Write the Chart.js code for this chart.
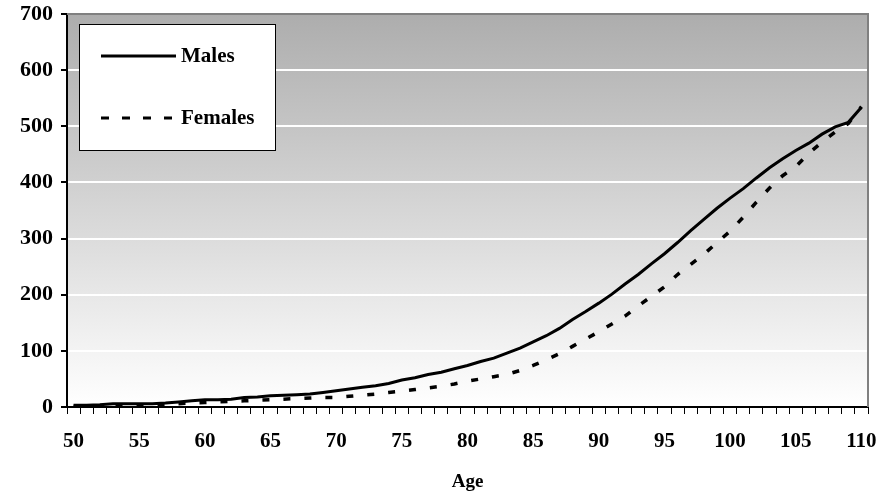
<!DOCTYPE html>
<html>
  <head>
    <meta charset="utf-8">
    <style type="text/css">
      html, body { margin: 0; padding: 0; background: #ffffff; }
      .chart-container { width: 882px; height: 498px; }
    </style>
  </head>
  <body>
    <script src="https://cdn.jsdelivr.net/npm/chart.js@4.4.1/dist/chart.umd.min.js"></script>

    <div class="chart-container">
      <canvas id="myChart" width="882" height="498"></canvas>
    </div>

    <script>
      /* datas */
      const ages = [];
      for (let a = 50; a <= 110; a++) ages.push(a);

      const males = [3, 3, 4, 6, 6, 6, 6, 7, 9, 11,
        13, 13, 14, 17, 18, 20, 21, 22, 23, 26,
        29, 32, 35, 38, 42, 48, 52, 58, 62, 68,
        74, 81, 87, 96, 105, 116, 127, 140, 156, 170,
        185, 201, 219, 236, 255, 273, 293, 314, 334, 354,
        372, 389, 408, 426, 442, 457, 470, 486, 499, 507,
        534];

      const females = [1, 1, 2, 2, 3, 3, 4, 5, 6, 7,
        8, 9, 10, 11, 12, 13, 14, 15, 16, 17,
        17, 19, 21, 23, 26, 28, 31, 34, 37, 41,
        46, 50, 54, 58, 65, 74, 84, 95, 108, 121,
        134, 148, 162, 180, 197, 214, 236, 254, 272, 293,
        313, 338, 365, 390, 412, 428, 452, 472, 490, 505,
        535];

      const yTicks = [0, 100, 200, 300, 400, 500, 600, 700];

      const serif = "'Liberation Serif', 'Times New Roman', serif";

      // gradient background, frame and legend box
      const decor = {
        id: 'decor',
        beforeDraw(chart) {
          const { ctx, chartArea: a } = chart;
          const g = ctx.createLinearGradient(0, a.top, 0, a.bottom);
          g.addColorStop(0, '#adadad');
          g.addColorStop(1, '#ffffff');
          ctx.save();
          ctx.fillStyle = g;
          ctx.fillRect(a.left, a.top, a.right - a.left, a.bottom - a.top);
          ctx.restore();
        },
        afterDatasetsDraw(chart) {
          const { ctx, chartArea: a } = chart;
          ctx.save();
          ctx.strokeStyle = '#808080';
          ctx.lineWidth = 2;
          ctx.beginPath();
          ctx.moveTo(a.left, a.top);
          ctx.lineTo(a.right, a.top);
          ctx.lineTo(a.right, a.bottom);
          ctx.stroke();

          // legend
          ctx.fillStyle = '#ffffff';
          ctx.fillRect(79, 24, 196, 126);
          ctx.strokeStyle = '#000000';
          ctx.lineWidth = 1;
          ctx.strokeRect(79.5, 24.5, 196, 126);

          const rows = [56, 118];
          chart.data.datasets.forEach((ds, i) => {
            ctx.beginPath();
            ctx.lineWidth = 3;
            ctx.strokeStyle = '#000000';
            ctx.setLineDash(i === 0 ? [] : [8, 13]);
            ctx.moveTo(101, rows[i]);
            ctx.lineTo(176, rows[i]);
            ctx.stroke();
            ctx.setLineDash([]);
            ctx.fillStyle = '#000000';
            ctx.font = 'bold 21px ' + serif;
            ctx.letterSpacing = '0px';
            ctx.textBaseline = 'middle';
            ctx.textAlign = 'left';
            ctx.fillText(ds.label, 181, rows[i] + 1);
          });
          ctx.restore();
        }
      };

      // drop the label overflow padding, the layout padding alone places the plot box
      const noOverflow = function(scale) {
        scale.paddingTop = 0;
        scale.paddingBottom = 0;
        scale.paddingLeft = 0;
        scale.paddingRight = 0;
      };

      const myChart = new Chart('myChart', {
        type: 'line',
        data: {
          labels: ages,
          datasets: [{
            label: 'Males',
            data: males,
            borderColor: '#000000',
            borderWidth: 3,
            pointRadius: 0,
            tension: 0,
            fill: false
          }, {
            label: 'Females',
            data: females,
            borderColor: '#000000',
            borderWidth: 3.5,
            borderDash: [7, 14],
            pointRadius: 0,
            tension: 0,
            fill: false
          }]
        },
        options: {
          responsive: false,
          animation: false,
          layout: { padding: { top: 14, right: 14, left: 0, bottom: 0 } },
          plugins: {
            legend: { display: false },
            tooltip: { enabled: false }
          },
          scales: {
            x: {
              type: 'category',
              offset: true,
              grid: {
                offset: true,
                drawOnChartArea: false,
                tickLength: 7,
                tickColor: '#000000',
                lineWidth: 1
              },
              border: { color: '#000000', width: 2 },
              ticks: {
                autoSkip: false,
                maxRotation: 0,
                padding: 15,
                color: '#000000',
                font: { family: serif, size: 21, weight: 'bold' },
                callback: function(value, index) {
                  const a = ages[index];
                  return a % 5 === 0 ? String(a) : '';
                }
              },
              title: {
                display: true,
                text: 'Age',
                color: '#000000',
                font: { family: serif, size: 19, weight: 'bold' },
                padding: { top: 4, bottom: 5 }
              },
              afterFit: function(scale) {
                scale.height = 91;
                noOverflow(scale);
              }
            },
            y: {
              min: 0,
              max: 700,
              afterBuildTicks: function(scale) {
                scale.ticks = yTicks.map(v => ({ value: v }));
              },
              grid: {
                color: '#ffffff',
                lineWidth: 2,
                tickLength: 6,
                tickColor: '#000000'
              },
              border: { color: '#000000', width: 2 },
              ticks: {
                padding: 8,
                color: '#000000',
                font: { family: serif, size: 22, weight: 'bold' }
              },
              afterFit: function(scale) {
                scale.width = 67;
                noOverflow(scale);
              }
            }
          }
        },
        plugins: [decor]
      });
    </script>
  </body>
</html>
